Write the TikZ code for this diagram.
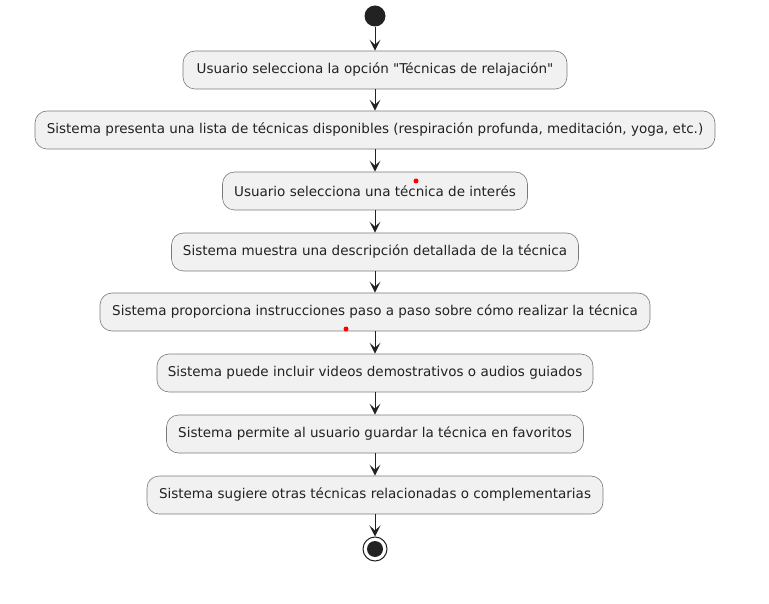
\documentclass[tikz,border=0pt]{standalone}
\usepackage{fontspec}
\setmainfont{DejaVu Sans}[Ligatures=TeXOff]
\usetikzlibrary{arrows.meta}
\definecolor{boxfill}{HTML}{F1F1F1}
\definecolor{boxline}{HTML}{7A7A7A}
\definecolor{ink}{HTML}{222222}
\tikzset{
  act/.style={draw=boxline, line width=0.6pt, fill=boxfill, rounded corners=12pt,
    minimum height=38pt, inner xsep=0pt, align=center,
    font=\fontsize{13.5}{16}\selectfont, text=ink},
  flow/.style={draw=ink, line width=1pt, -{Stealth[length=11pt,width=11pt,inset=5pt]}},
  startdot/.style={circle, fill=ink, minimum size=21pt, inner sep=0pt},
  enddot/.style={circle, draw=ink, line width=1pt, fill=white, minimum size=24pt, inner sep=0pt},
  enddotin/.style={circle, fill=ink, minimum size=16pt, inner sep=0pt},
  reddot/.style={circle, fill=red, minimum size=5pt, inner sep=0pt}
}
\begin{document}
\begin{tikzpicture}[x=1pt,y=-1pt]
\useasboundingbox (0,0) rectangle (769,604);
\node[startdot] (s) at (375,16) {};
\node[act, minimum width=384pt] (b1) at (375,70) {Usuario selecciona la opción "Técnicas de relajación"};
\node[act, minimum width=680pt] (b2) at (375,130) {Sistema presenta una lista de técnicas disponibles (respiración profunda, meditación, yoga, etc.)};
\node[act, minimum width=305pt] (b3) at (375,191) {Usuario selecciona una técnica de interés};
\node[act, minimum width=407pt] (b4) at (375,252) {Sistema muestra una descripción detallada de la técnica};
\node[act, minimum width=550pt] (b5) at (375,312) {Sistema proporciona instrucciones paso a paso sobre cómo realizar la técnica};
\node[act, minimum width=436pt] (b6) at (375,373) {Sistema puede incluir videos demostrativos o audios guiados};
\node[act, minimum width=417pt] (b7) at (375,434) {Sistema permite al usuario guardar la técnica en favoritos};
\node[act, minimum width=456pt] (b8) at (375,495) {Sistema sugiere otras técnicas relacionadas o complementarias};
\node[enddot] (e) at (375,549) {};
\node[enddotin] (ein) at (375,549) {};
\draw[flow] (s) -- (b1);
\draw[flow] (b1) -- (b2);
\draw[flow] (b2) -- (b3);
\draw[flow] (b3) -- (b4);
\draw[flow] (b4) -- (b5);
\draw[flow] (b5) -- (b6);
\draw[flow] (b6) -- (b7);
\draw[flow] (b7) -- (b8);
\draw[flow] (b8) -- (e);
\node[reddot] (r1) at (416,181) {};
\node[reddot] (r2) at (346,329) {};
\end{tikzpicture}
\end{document}
